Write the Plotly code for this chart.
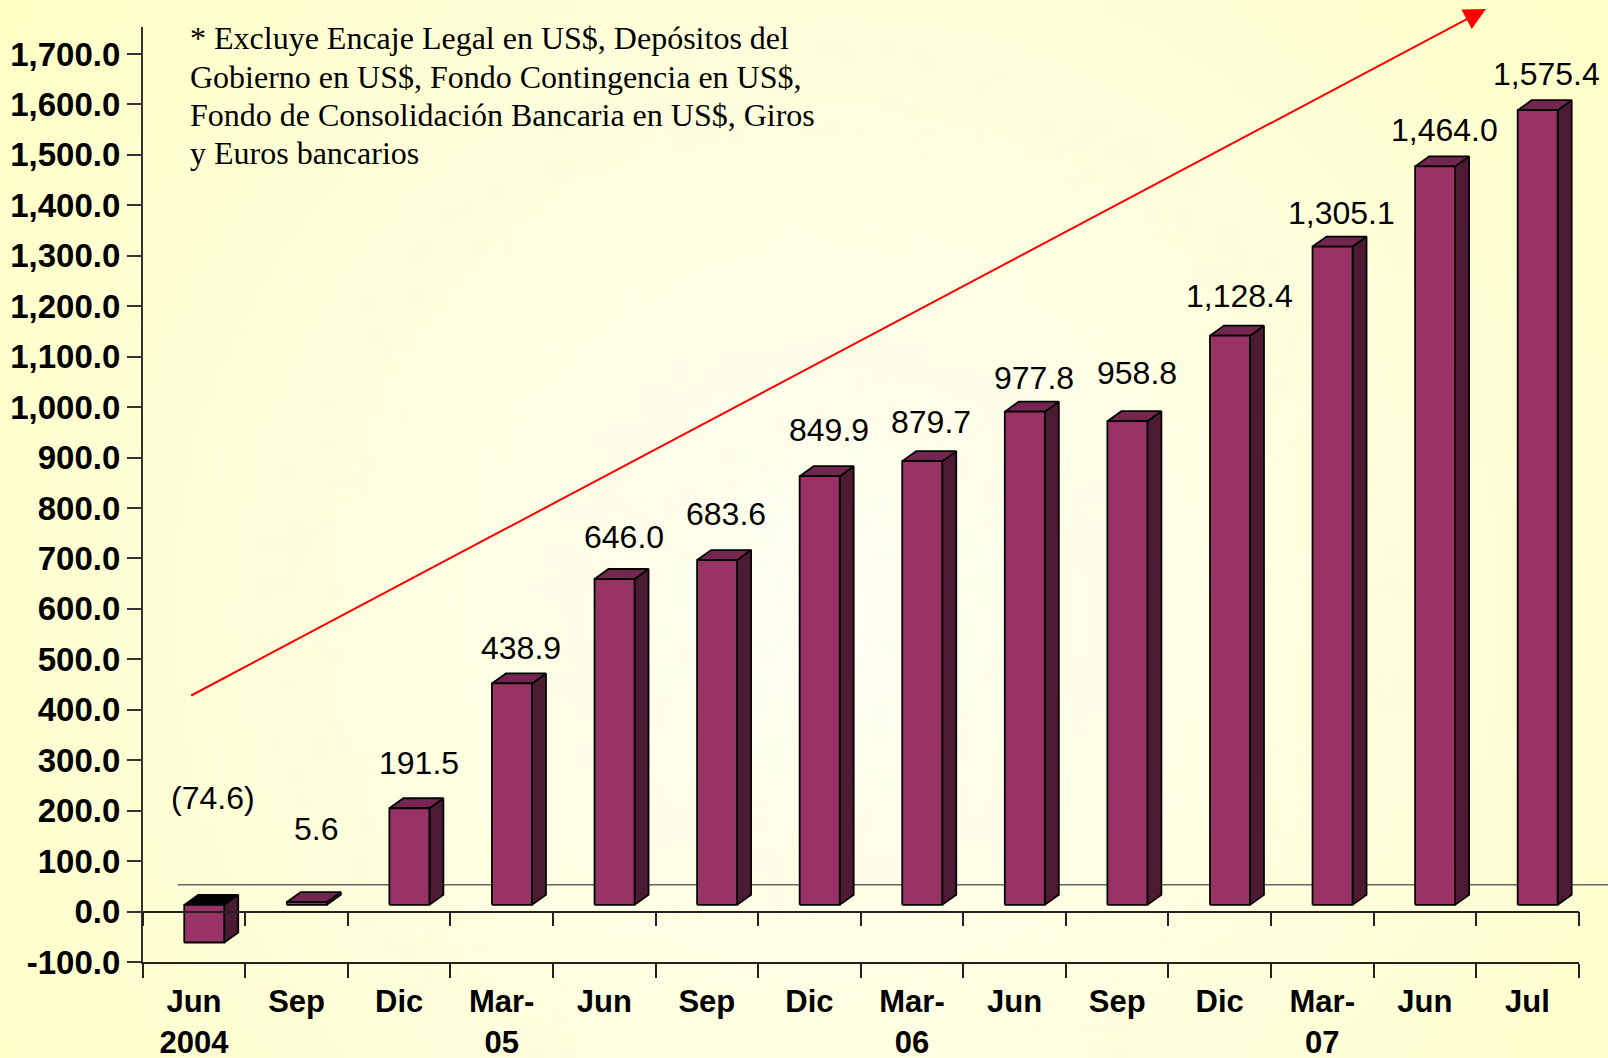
import base64
import struct
import zlib

import numpy as np
import plotly.graph_objects as go

# ---------------- data ----------------
categories = ["Jun<br>2004", "Sep", "Dic", "Mar-<br>05", "Jun", "Sep", "Dic",
              "Mar-<br>06", "Jun", "Sep", "Dic", "Mar-<br>07", "Jun", "Jul"]
values = [-74.6, 5.6, 191.5, 438.9, 646.0, 683.6, 849.9, 879.7, 977.8, 958.8,
          1128.4, 1305.1, 1464.0, 1575.4]
value_labels = ["(74.6)", "5.6", "191.5", "438.9", "646.0", "683.6", "849.9",
                "879.7", "977.8", "958.8", "1,128.4", "1,305.1", "1,464.0", "1,575.4"]
y_ticks = list(range(-100, 1800, 100))
note_lines = ["* Excluye Encaje Legal en US$, Depósitos del",
              "Gobierno en US$, Fondo Contingencia en US$,",
              "Fondo de Consolidación Bancaria en US$, Giros",
              "y Euros bancarios"]

# ---------------- styling / geometry ----------------
W, H = 1608, 1058
XL, XR = 142.7, 1578.7          # plot area (px)
YT, YB = 27.3, 962.0
YMIN, YMAX = -100, 1753
n = len(values)
ux = (XR - XL) / n                  # px per category unit
uy = (YB - YT) / (YMAX - YMIN)      # px per value unit

bar_off, bar_w = 0.405, 0.39
ddx, ddy = 14 / ux, 10 / uy         # 3D depth of bars
lift = 6.7 / uy                     # bar plane lift
label_lift = [226, 158, 104, 84, 96, 105, 104, 90, 79, 108, 92, 80, 85, 86]
back_line_y = 53
note_line_px = [38, 77, 115, 153]

FRONT, SIDE, TOP, TOPNEG = "#993366", "#4d1a33", "#732650", "#000000"
SANS = "Liberation Sans, Arial, sans-serif"
SERIF = "Liberation Serif, Times New Roman, serif"

dom_x = [XL / W, XR / W]
dom_y = [(H - YB) / H, (H - YT) / H]


def png_uri(arr):
    h, w, _ = arr.shape
    raw = b"".join(b"\x00" + arr[r].tobytes() for r in range(h))

    def chunk(tag, data):
        return (struct.pack(">I", len(data)) + tag + data +
                struct.pack(">I", zlib.crc32(tag + data) & 0xffffffff))
    png = (b"\x89PNG\r\n\x1a\n" +
           chunk(b"IHDR", struct.pack(">IIBBBBB", w, h, 8, 2, 0, 0, 0)) +
           chunk(b"IDAT", zlib.compress(raw, 9)) + chunk(b"IEND", b""))
    return "data:image/png;base64," + base64.b64encode(png).decode()


gw, gh = 160, 106
yy, xx = np.mgrid[0:gh, 0:gw]
gx = (xx / (gw - 1) - 0.52) * W
gy = (yy / (gh - 1) - 0.58) * H
d = np.sqrt(gx ** 2 + gy ** 2) / np.sqrt((0.52 * W) ** 2 + (0.58 * H) ** 2)
t = np.clip(d, 0, 1) ** 1.2
inner = np.array([255, 255, 242.0])
outer = np.array([255, 255, 198.0])
img = (inner[None, None, :] * (1 - t[..., None]) + outer[None, None, :] * t[..., None])
img = np.clip(img, 0, 255).astype(np.uint8)
bg_uri = png_uri(img)

# ---------------- bar polygons ----------------
fx, fy, sx, sy, tx, ty, nx_, ny_ = [], [], [], [], [], [], [], []
for i, v in enumerate(values):
    xl = i + bar_off
    xr = xl + bar_w
    b = lift + min(v, 0)
    tp = lift + max(v, 0)
    fx += [xl, xr, xr, xl, xl, None]
    fy += [b, b, tp, tp, b, None]
    sx += [xr, xr + ddx, xr + ddx, xr, xr, None]
    sy += [b, b + ddy, tp + ddy, tp, b, None]
    px_ = [xl, xr, xr + ddx, xl + ddx, xl, None]
    py_ = [tp, tp, tp + ddy, tp + ddy, tp, None]
    if v < 0:
        nx_ += px_
        ny_ += py_
    else:
        tx += px_
        ty += py_

edge = dict(color="#000000", width=1.8)
fig = go.Figure()
for X, Y, col in [(sx, sy, SIDE), (tx, ty, TOP), (nx_, ny_, TOPNEG), (fx, fy, FRONT)]:
    fig.add_trace(go.Scatter(x=X, y=Y, mode="lines", fill="toself", fillcolor=col,
                             line=edge, hoverinfo="skip", showlegend=False))

# dummy traces so helper axes render
fig.add_trace(go.Scatter(x=[0], y=[0], xaxis="x2", yaxis="y", mode="none",
                         showlegend=False, hoverinfo="skip"))
fig.add_trace(go.Scatter(x=[0], y=[0], xaxis="x3", yaxis="y", mode="none",
                         showlegend=False, hoverinfo="skip"))

# data labels
for i, (v, lab) in enumerate(zip(values, value_labels)):
    fig.add_annotation(x=i + 0.69, y=max(v, 0) + label_lift[i], text=lab,
                       showarrow=False, xanchor="center", yanchor="middle",
                       font=dict(family=SANS, size=32, color="#000000"))

# note
for line, ypx in zip(note_lines, note_line_px):
    fig.add_annotation(xref="paper", yref="paper", x=188 / W, y=1 - ypx / H,
                       xanchor="left", yanchor="middle", align="left", showarrow=False,
                       text=line, font=dict(family=SERIF, size=32, color="#000000"))

# trend arrow
fig.add_annotation(xref="paper", yref="paper", x=1486 / W, y=1 - 9 / H,
                   axref="pixel", ayref="pixel", ax=189.7 - 1486, ay=696.3 - 9,
                   showarrow=True, arrowhead=2, arrowsize=2.2, arrowwidth=2,
                   arrowcolor="#ff0000", text="")

# back floor line
fig.add_shape(type="line", xref="paper", yref="y", x0=177.7 / W, x1=1,
              y0=back_line_y, y1=back_line_y, layer="below",
              line=dict(color="#666666", width=1.5))

zero_pos = dom_y[0] + (0 - YMIN) / (YMAX - YMIN) * (dom_y[1] - dom_y[0])
bounds = list(range(0, n + 1))

fig.update_layout(
    width=W, height=H,
    margin=dict(l=0, r=0, t=0, b=0, autoexpand=False),
    paper_bgcolor="#ffffe6",
    plot_bgcolor="rgba(0,0,0,0)",
    images=[dict(source=bg_uri, xref="paper", yref="paper", x=0, y=1, sizex=1, sizey=1,
                 sizing="stretch", layer="below", xanchor="left", yanchor="top")],
    showlegend=False,
    xaxis=dict(domain=dom_x, range=[0, n], anchor="y", showgrid=False, zeroline=False,
               showline=False, tickmode="array", automargin=False,
               tickvals=[i + 0.5 for i in range(n)], ticktext=categories,
               ticks="outside", ticklen=12, tickcolor="rgba(0,0,0,0)",
               tickfont=dict(family=SANS, size=31, color="#000000", weight="bold"),
               fixedrange=True),
    xaxis2=dict(domain=dom_x, range=[0, n], anchor="y", overlaying="x", side="bottom",
                showgrid=False, zeroline=False, showline=True, linecolor="#222222",
                linewidth=1.5, tickmode="array", tickvals=bounds, ticks="outside",
                ticklen=14, tickwidth=1.5, tickcolor="#222222", showticklabels=False,
                automargin=False, fixedrange=True),
    xaxis3=dict(domain=dom_x, range=[0, n], anchor="free", position=zero_pos,
                overlaying="x", side="bottom", showgrid=False, zeroline=False,
                showline=True, linecolor="#222222", linewidth=1.5, tickmode="array",
                tickvals=bounds, ticks="outside", ticklen=14, tickwidth=1.5,
                tickcolor="#222222", showticklabels=False, automargin=False,
                fixedrange=True),
    yaxis=dict(domain=dom_y, range=[YMIN, YMAX], anchor="x", showgrid=False,
               zeroline=False, showline=True, linecolor="#333333", linewidth=1.5,
               tickmode="array", tickvals=y_ticks, automargin=False,
               ticktext=[f"{v:,.1f}" for v in y_ticks],
               ticks="outside", ticklen=14, tickwidth=1.5, tickcolor="#333333",
               tickfont=dict(family=SANS, size=33, color="#000000", weight="bold"),
               fixedrange=True),
)

fig.write_html("out.html", config={"displayModeBar": False},
               post_script="document.body.style.margin='0';"
                           "document.body.style.overflow='hidden';")
